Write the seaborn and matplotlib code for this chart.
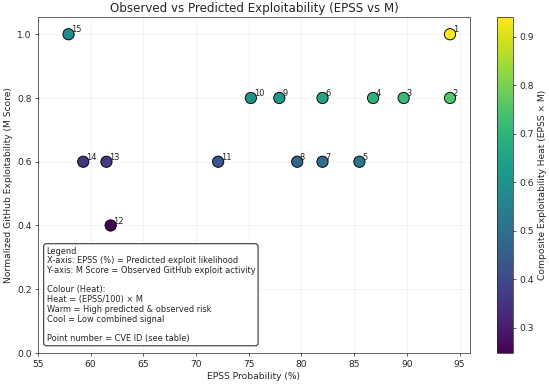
import numpy as np
import pandas as pd
import matplotlib
matplotlib.use("Agg")
import matplotlib.pyplot as plt
import seaborn as sns

# point data
cve_id = [1, 2, 3, 4, 5, 6, 7, 8, 9, 10, 11, 12, 13, 14, 15]
epss   = [94.1, 94.1, 89.7, 86.8, 85.5, 82.0, 82.0, 79.6, 77.9, 75.2, 72.1, 61.9, 61.5, 59.3, 57.9]
m_score= [1.0, 0.8, 0.8, 0.8, 0.6, 0.8, 0.6, 0.6, 0.8, 0.8, 0.6, 0.4, 0.6, 0.6, 1.0]

df = pd.DataFrame({"id": cve_id, "epss": epss, "m": m_score})
df["heat"] = df["epss"] / 100.0 * df["m"]

sns.set_style("white")
plt.rcParams['font.family'] = ['DejaVu Sans']

# figure rendered at low dpi -> 550x386
fig = plt.figure(figsize=(8.33, 5.85), dpi=66)
ax = fig.add_axes([0.069, 0.0855, 0.786, 0.871])
cax = fig.add_axes([0.904, 0.0855, 0.029, 0.871])

norm = plt.Normalize(df["heat"].min(), df["heat"].max())
sns.scatterplot(data=df, x="epss", y="m", hue="heat", palette="viridis", hue_norm=norm,
                s=150, edgecolor="black", linewidth=1.0, legend=False, ax=ax, zorder=3)

for i, row in df.iterrows():
    ax.annotate(str(int(row["id"])), (row["epss"], row["m"]), xytext=(3, 2),
                textcoords="offset points", fontsize=9, color="#222222")

ax.set_xlim(55, 96)
ax.set_ylim(0, 1.055)
ax.set_xticks(np.arange(55, 96, 5))
ax.set_yticks(np.arange(0, 1.01, 0.2))
ax.tick_params(labelsize=10, length=3.5, direction="out", bottom=True, left=True)
ax.grid(True, alpha=0.3)
for sp in ax.spines.values():
    sp.set_color("#333333")

ax.set_xlabel("EPSS Probability (%)", fontsize=10)
ax.set_ylabel("Normalized GitHub Exploitability (M Score)", fontsize=10)
ax.set_title("Observed vs Predicted Exploitability (EPSS vs M)", fontsize=13, pad=5)

legend_text = ("Legend\n"
               "X-axis: EPSS (%) = Predicted exploit likelihood\n"
               "Y-axis: M Score = Observed GitHub exploit activity\n"
               "\n"
               "Colour (Heat):\n"
               "Heat = (EPSS/100) \u00d7 M\n"
               "Warm = High predicted & observed risk\n"
               "Cool = Low combined signal\n"
               "\n"
               "Point number = CVE ID (see table)")
ax.text(0.02, 0.03, legend_text, transform=ax.transAxes, fontsize=9, va="bottom", ha="left",
        linespacing=1.1,
        bbox=dict(boxstyle="round,pad=0.35", facecolor="white", edgecolor="#333333", linewidth=1.2))

sm = plt.cm.ScalarMappable(cmap="viridis", norm=norm)
cb = fig.colorbar(sm, cax=cax)
cb.set_label("Composite Exploitability Heat (EPSS \u00d7 M)", fontsize=10)
cb.ax.tick_params(labelsize=10)

fig.savefig("out.png", dpi=66)
